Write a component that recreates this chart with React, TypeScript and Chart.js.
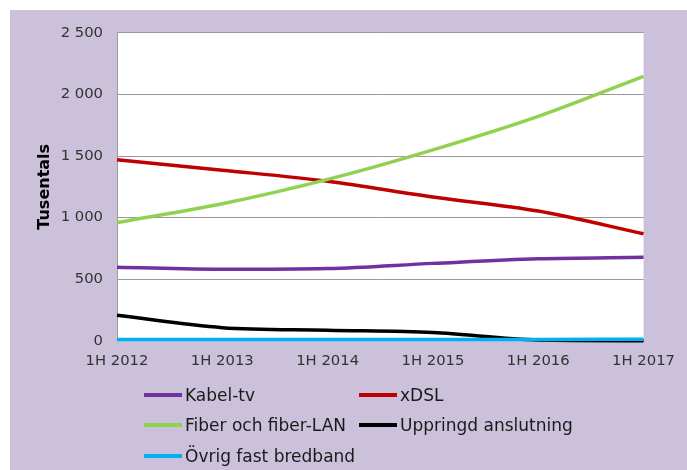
import React, { useEffect, useRef } from 'react';
import { Chart, registerables } from 'chart.js';

Chart.register(...registerables);

const categories = ['1H 2012', '1H 2013', '1H 2014', '1H 2015', '1H 2016', '1H 2017'];

const kabelTv = [596, 580, 586, 628, 665, 678];
const xdsl = [1470, 1385, 1295, 1167, 1053, 868];
const fiber = [959, 1112, 1310, 1550, 1822, 2147];
const uppringd = [206, 106, 85, 66, 5, 0];
const ovrig = [10, 10, 10, 10, 10, 12];

const seriesLabels = ['Kabel-tv', 'xDSL', 'Fiber och fiber-LAN', 'Uppringd anslutning', 'Övrig fast bredband'];
const seriesValues = [kabelTv, xdsl, fiber, uppringd, ovrig];
const seriesColors = ['#7030A0', '#C00000', '#92D050', '#000000', '#00B0F0'];

const yMin = 0;
const yMax = 2500;
const yStep = 500;
const yTitle = 'Tusentals';

const FONT = "'DejaVu Sans', Verdana, sans-serif";
const GRID = '#9a9a9a';

const fmt = (v: number) => String(v).replace(/\B(?=(\d{3})+(?!\d))/g, ' ');

const whiteArea = {
  id: 'whiteArea',
  beforeDraw(chart: any) {
    const { ctx, chartArea } = chart;
    ctx.save();
    ctx.fillStyle = '#ffffff';
    ctx.fillRect(chartArea.left, chartArea.top, chartArea.right - chartArea.left, chartArea.bottom - chartArea.top);
    ctx.restore();
  },
};

export default function App() {
  const ref = useRef<HTMLCanvasElement>(null);

  useEffect(() => {
    if (!ref.current) return;
    const chart = new Chart(ref.current, {
      type: 'line',
      data: {
        labels: categories,
        datasets: seriesValues.map((d, i) => ({
          label: seriesLabels[i],
          data: d,
          borderColor: seriesColors[i],
          backgroundColor: seriesColors[i],
          borderWidth: 3.5,
          pointRadius: 0,
          cubicInterpolationMode: 'monotone' as const,
          fill: false,
          clip: false as any,
          order: seriesValues.length - 1 - i,
        })),
      },
      options: {
        animation: false,
        responsive: false,
        maintainAspectRatio: false,
        layout: { padding: { left: 21, right: 41, top: 18.6, bottom: 19.3 } },
        plugins: { legend: { display: false }, tooltip: { enabled: false } },
        scales: {
          x: {
            offset: false,
            grid: { display: false, drawTicks: false },
            border: { display: true, color: GRID },
            ticks: {
              padding: 12,
              maxRotation: 0,
              autoSkip: false,
              color: '#333333',
              font: { family: FONT, size: 14.8 },
            },
            afterFit: (s: any) => {
              s.height = 30;
            },
          },
          y: {
            min: yMin,
            max: yMax,
            ticks: {
              stepSize: yStep,
              padding: 14,
              color: '#333333',
              font: { family: FONT, size: 14.8 },
              callback: (v: any) => fmt(Number(v)),
            },
            grid: { color: GRID, drawTicks: false, lineWidth: 1 },
            border: { display: true, color: GRID },
            title: {
              display: true,
              text: yTitle,
              color: '#000000',
              font: { family: FONT, size: 16, weight: 'bold' },
            },
            afterFit: (s: any) => {
              s.width = 86;
            },
          },
        },
      },
      plugins: [whiteArea],
    });
    return () => chart.destroy();
  }, []);

  const rowY = [384.5, 414.5, 445.5];
  const colX = [134, 349];

  return (
    <div style={{ position: 'absolute', left: 0, top: 0, width: 687, height: 470, background: '#ffffff', overflow: 'hidden' }}>
      <div style={{ position: 'absolute', left: 10, top: 10, width: 677, height: 460, background: '#CCC1DA' }}>
        <canvas ref={ref} width={677} height={380} style={{ position: 'absolute', left: 0, top: 0, width: 677, height: 380, display: 'block' }} />
        {seriesLabels.map((lab, i) => {
          const col = i === 4 ? 0 : i % 2;
          const row = Math.floor(i / 2);
          return (
            <div
              key={lab}
              style={{
                position: 'absolute',
                left: colX[col],
                top: rowY[row] - 12,
                height: 24,
                display: 'flex',
                alignItems: 'center',
                whiteSpace: 'nowrap',
                fontFamily: FONT,
                fontSize: 17,
                color: '#1a1a1a',
              }}
            >
              <span style={{ display: 'inline-block', width: 38, height: 4, background: seriesColors[i], marginRight: 3 }} />
              <span>{lab}</span>
            </div>
          );
        })}
      </div>
    </div>
  );
}
